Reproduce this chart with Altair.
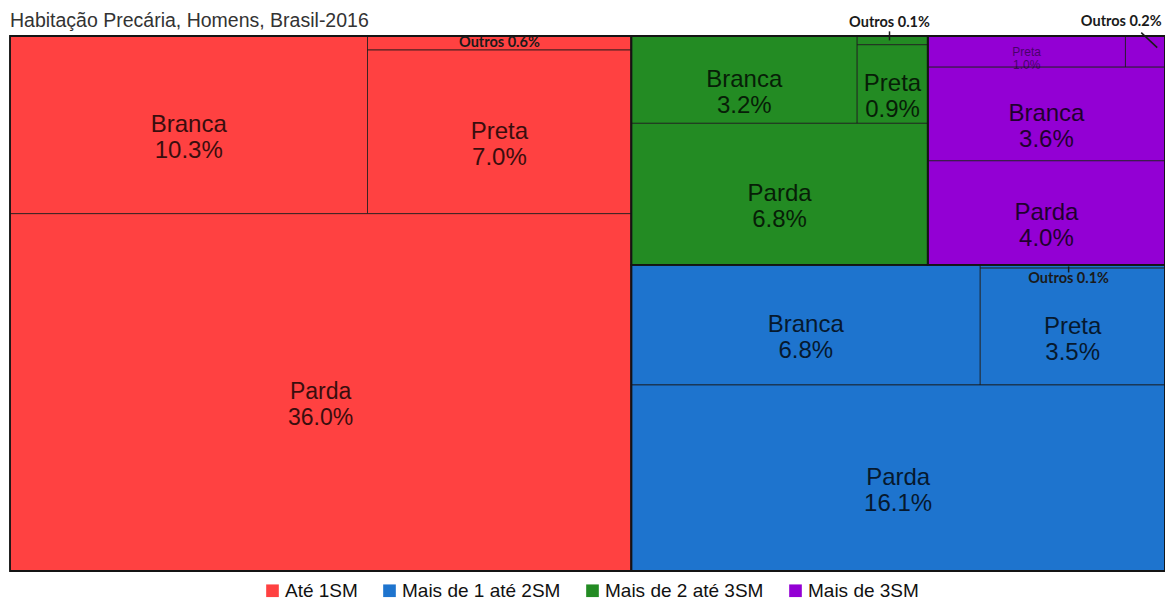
import altair as alt
import pandas as pd

titulo = "Habitação Precária, Homens, Brasil-2016"
grupos = ["Até 1SM", "Mais de 1 até 2SM", "Mais de 2 até 3SM", "Mais de 3SM"]
cores = ["#FF4141", "#1E74CE", "#238B23", "#9300D4"]
racas = ["Branca", "Preta", "Parda", "Outros"]
ate_1sm = [10.3, 7.0, 36.0, 0.6]
de_1_a_2sm = [6.8, 3.5, 16.1, 0.1]
de_2_a_3sm = [3.2, 0.9, 6.8, 0.1]
mais_3sm = [3.6, 1.0, 4.0, 0.2]
valores = [ate_1sm, de_1_a_2sm, de_2_a_3sm, mais_3sm]

W, H = 1155, 535


# ---- treemap layout (arrangement mirrors the reference) ----
def leaf(g, r):
    return ("leaf", g, r)


def arr_a(g):
    return ("col", [("row", [leaf(g, "Branca"), ("col", [leaf(g, "Outros"), leaf(g, "Preta")])]),
                    leaf(g, "Parda")])


def arr_b(g):
    return ("col", [("row", [leaf(g, "Preta"), leaf(g, "Outros")]), leaf(g, "Branca"), leaf(g, "Parda")])


tree = ("row", [arr_a(0), ("col", [("row", [arr_a(2), arr_b(3)]), arr_a(1)])])


def total(n):
    if n[0] == "leaf":
        return valores[n[1]][racas.index(n[2])]
    return sum(total(c) for c in n[1])


def place(n, x0, y0, x1, y1, out):
    if n[0] == "leaf":
        out.append(dict(x0=x0, x1=x1, y0=y0, y1=y1, g=n[1], grupo=grupos[n[1]], raca=n[2],
                        valor=valores[n[1]][racas.index(n[2])]))
        return
    t = total(n)
    pos = x0 if n[0] == "row" else y0
    for c in n[1]:
        f = total(c) / t
        if n[0] == "row":
            nxt = pos + f * (x1 - x0)
            place(c, pos, y0, nxt, y1, out)
        else:
            nxt = pos + f * (y1 - y0)
            place(c, x0, pos, x1, nxt, out)
        pos = nxt


leaves = []
place(tree, 0.0, 0.0, 1.0, 1.0, leaves)
leaves_df = pd.DataFrame(leaves)

groups_df = (leaves_df.groupby("grupo")
             .agg(x0=("x0", "min"), x1=("x1", "max"), y0=("y0", "min"), y1=("y1", "max"))
             .reset_index())

# callout offsets (pixels) for tiny "Outros" cells: label offset from cell centre, leader ends
callouts = {
    2: dict(dx=-3, dy=-17, ax=-3, ay=0, bx=-3, by=-9),
    3: dict(dx=-24, dy=-30, ax=12, ay=-4, bx=-4, by=-19),
    1: dict(dx=-4, dy=13, ax=-4, ay=0, bx=-4, by=6),
}

big, small, outros, leaders = [], [], [], []
for r in leaves:
    cx, cy = (r["x0"] + r["x1"]) / 2, (r["y0"] + r["y1"]) / 2
    wpx, hpx = (r["x1"] - r["x0"]) * W, (r["y1"] - r["y0"]) * H
    txt = f"{r['raca']}\n{r['valor']:.1f}%"
    if r["raca"] != "Outros":
        if hpx >= 50:
            big.append(dict(x=cx, y=cy, text=txt, size=23 if r["valor"] > 30 else 24))
        else:
            small.append(dict(x=cx, y=cy, text=txt))
    else:
        lab = f"Outros {r['valor']:.1f}%"
        if wpx >= 100 and hpx >= 12:
            outros.append(dict(x=cx, y=cy, text=lab))
        else:
            c = callouts[r["g"]]
            outros.append(dict(x=cx + c["dx"] / W, y=cy + c["dy"] / H, text=lab))
            leaders.append(dict(x=cx + c["ax"] / W, y=cy + c["ay"] / H,
                                x2=cx + c["bx"] / W, y2=cy + c["by"] / H))

xs = alt.Scale(domain=[0, 1], nice=False, zero=False)
ys = alt.Scale(domain=[0, 1], nice=False, zero=False, reverse=True)

rects = alt.Chart(leaves_df).mark_rect(stroke="#1a1a1a", strokeWidth=1, strokeOpacity=0.75).encode(
    x=alt.X("x0:Q", scale=xs, axis=None), x2="x1:Q",
    y=alt.Y("y0:Q", scale=ys, axis=None), y2="y1:Q",
    color=alt.Color("grupo:N", scale=alt.Scale(domain=grupos, range=cores), sort=grupos,
                    legend=alt.Legend(title=None, orient="none", legendX=253, legendY=545,
                                      direction="horizontal", symbolType="square", symbolSize=160,
                                      symbolStrokeWidth=0, symbolOpacity=1,
                                      labelFont="Liberation Sans", labelFontSize=19,
                                      labelLimit=400,
                                      labelColor="#111", columnPadding=22, labelOffset=3)),
    tooltip=["grupo:N", "raca:N", "valor:Q"],
)

outlines = alt.Chart(groups_df).mark_rect(fillOpacity=0, stroke="#141414", strokeWidth=1.8).encode(
    x=alt.X("x0:Q", scale=xs, axis=None), x2="x1:Q",
    y=alt.Y("y0:Q", scale=ys, axis=None), y2="y1:Q",
)

big_txt = alt.Chart(pd.DataFrame(big)).mark_text(
    font="Liberation Sans", lineBreak="\n", lineHeight=26, color="black", opacity=0.78,
    align="center", baseline="middle").encode(
    x=alt.X("x:Q", scale=xs, axis=None), y=alt.Y("y:Q", scale=ys, axis=None),
    text="text:N", size=alt.Size("size:Q", scale=None, legend=None))

small_txt = alt.Chart(pd.DataFrame(small)).mark_text(
    font="Liberation Sans", fontSize=12, lineBreak="\n", lineHeight=13, color="black", opacity=0.5,
    align="center", baseline="middle").encode(
    x=alt.X("x:Q", scale=xs, axis=None), y=alt.Y("y:Q", scale=ys, axis=None), text="text:N")

outros_txt = alt.Chart(pd.DataFrame(outros)).mark_text(
    font="Lato", fontSize=14.5, fontWeight="bold", color="#1a1a1a",
    align="center", baseline="middle").encode(
    x=alt.X("x:Q", scale=xs, axis=None), y=alt.Y("y:Q", scale=ys, axis=None), text="text:N")

leader_rules = alt.Chart(pd.DataFrame(leaders)).mark_rule(color="#1a1a1a", strokeWidth=1.5).encode(
    x=alt.X("x:Q", scale=xs, axis=None), y=alt.Y("y:Q", scale=ys, axis=None),
    x2="x2:Q", y2="y2:Q")

title_txt = alt.Chart(pd.DataFrame({"t": [titulo]})).mark_text(
    font="Liberation Sans", fontSize=19.5, color="#333", align="left", baseline="alphabetic").encode(
    x=alt.value(0), y=alt.value(-9), text="t:N")

chart = alt.layer(rects, outlines, big_txt, small_txt, outros_txt, leader_rules, title_txt).properties(
    width=W, height=H,
    padding={"left": 2, "top": 28, "right": 0, "bottom": 32},
    autosize="none",
).configure_view(stroke=None)

chart.save("out.html", embed_options={"renderer": "svg", "actions": False})
